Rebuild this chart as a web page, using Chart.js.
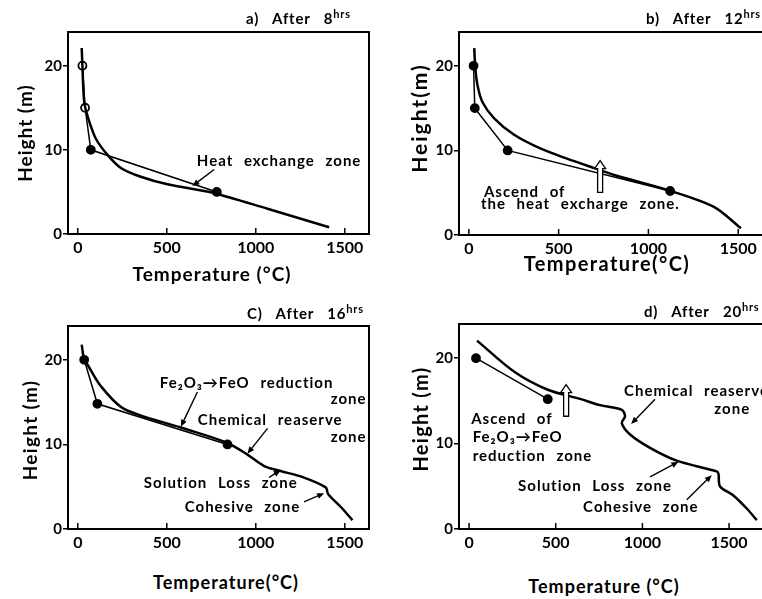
<!DOCTYPE html>
<html>
<head>
<meta charset="utf-8">
<script src="https://cdn.jsdelivr.net/npm/chart.js@4.4.1/dist/chart.umd.min.js"></script>
<style>
  html, body { margin: 0; padding: 0; width: 762px; height: 599px; overflow: hidden; background: #fff; }
  body { position: relative; font-family: Lato, "DejaVu Sans", sans-serif; font-weight: 700; color: #000; }
  canvas { position: absolute; }
  .lbl { position: absolute; white-space: nowrap; letter-spacing: 1px; line-height: 1; }
  .title { font-size: 15px; letter-spacing: 0.8px; word-spacing: 9px; transform: translate(0, -50%); }
  .title sup { font-size: 11px; vertical-align: 6px; letter-spacing: 0.8px; }
  .xt { transform: translate(-50%, -50%); }
  .yt { transform: translate(-50%, -50%) rotate(-90deg); }
</style>
</head>
<body>
  <canvas id="chartA" width="347" height="240" style="left:28px;top:22px"></canvas>
  <canvas id="chartB" width="362" height="241" style="left:419px;top:22px"></canvas>
  <canvas id="chartC" width="347" height="241" style="left:28px;top:316px"></canvas>
  <canvas id="chartD" width="362" height="243" style="left:419px;top:314px"></canvas>

  <div class="lbl title" style="left:246px;top:17px">a) After 8<sup>hrs</sup></div>
  <div class="lbl title" style="left:646px;top:17px">b) After 12<sup>hrs</sup></div>
  <div class="lbl title" style="left:247px;top:312px">C) After 16<sup>hrs</sup></div>
  <div class="lbl title" style="left:644px;top:310px">d) After 20<sup>hrs</sup></div>

  <div class="lbl xt" style="left:212px;top:273px;font-size:19px">Temperature (°C)</div>
  <div class="lbl xt" style="left:607px;top:263px;font-size:20px;letter-spacing:1.4px">Temperature(°C)</div>
  <div class="lbl xt" style="left:226px;top:582px;font-size:18px">Temperature(°C)</div>
  <div class="lbl xt" style="left:604px;top:586px;font-size:18px">Temperature (°C)</div>

  <div class="lbl yt" style="left:24px;top:133px;font-size:19px">Height (m)</div>
  <div class="lbl yt" style="left:418px;top:118px;font-size:21px;letter-spacing:2px">Height(m)</div>
  <div class="lbl yt" style="left:29px;top:430px;font-size:19px;letter-spacing:1.3px">Height (m)</div>
  <div class="lbl yt" style="left:420px;top:419px;font-size:20px;letter-spacing:1.3px">Height (m)</div>

<script>
  // tick labels shared by all four panels
  const xTicks = [0, 500, 1000, 1500];
  const yTicks = [0, 10, 20];

  // a) after 8 hrs
  const calcTempA = [22, 26, 36, 58, 101, 167, 242, 354, 504, 766, 1066, 1412];
  const calcHeightA = [22.1, 20, 15.7, 13.8, 11.35, 9.4, 7.85, 6.8, 5.9, 4.85, 3.0, 0.8];
  const measTempA = [26, 41, 73, 781];
  const measHeightA = [20, 15, 10, 5];

  // b) after 12 hrs
  const calcTempB = [30, 35, 48, 76, 141, 252, 401, 550, 700, 809, 1125, 1367, 1515];
  const calcHeightB = [22.1, 20, 17.7, 15.7, 13.8, 11.85, 10.2, 9.0, 7.9, 7.1, 5.2, 3.3, 0.8];
  const measTempB = [26, 33, 216, 1121];
  const measHeightB = [20, 15, 10, 5.2];

  // c) after 16 hrs
  const calcTempC = [22, 36, 54, 129, 260, 579, 837, 953, 1047, 1140, 1271, 1393, 1406, 1478, 1543];
  const calcHeightC = [21.8, 20, 19.45, 16.9, 14.2, 12.0, 10.2, 8.8, 7.44, 6.86, 6.08, 4.92, 4.15, 2.6, 1.05];
  const measTempC = [36, 110, 841];
  const measHeightC = [20, 14.8, 10];

  // d) after 20 hrs
  const calcTempD = [46, 261, 454, 646, 756, 881, 900, 881, 929, 1044, 1198, 1429, 1439, 1448, 1525, 1602, 1660];
  const calcHeightD = [22.05, 18.4, 16.3, 15.2, 14.5, 13.95, 13.2, 12.4, 11.06, 9.5, 8.0, 6.74, 6.44, 4.97, 3.93, 2.4, 1.04];
  const measTempD = [40, 454];
  const measHeightD = [20, 15.2];

  // annotations: [temp, height, text], pointers: [t0, h0, t1, h1], hollow arrows: [temp, hFrom, hTo]
  const notesA = {
    labels: [[669, 8.6, "Heat exchange zone"]],
    pointers: [[766, 7.66, 644, 5.7]],
    hollow: [],
  };
  const notesB = {
    labels: [[84, 5.05, "Ascend of"], [67, 3.7, "the heat excharge zone."]],
    pointers: [],
    hollow: [[731, 5.05, 8.8]],
  };
  const notesC = {
    labels: [
      [461, 17.2, "Fe₂O₃→FeO reduction"],
      [1421, 15.3, "zone"],
      [674, 12.9, "Chemical reaserve"],
      [1421, 10.9, "zone"],
      [371, 5.37, "Solution Loss zone"],
      [601, 2.6, "Cohesive zone"],
    ],
    pointers: [
      [672, 16.2, 579, 12.1],
      [1066, 11.9, 953, 8.9],
      [1075, 6.1, 1140, 6.95],
      [1271, 3.2, 1384, 4.24],
    ],
    hollow: [],
  };
  const notesD = {
    labels: [
      [894, 16.15, "Chemical reaserve"],
      [1415, 14.07, "zone"],
      [12, 12.9, "Ascend of"],
      [21, 10.75, "Fe₂O₃→FeO"],
      [21, 8.55, "reduction zone"],
      [283, 4.97, "Solution Loss zone"],
      [658, 2.5, "Cohesive zone"],
    ],
    pointers: [
      [1073, 15.2, 935, 12.3],
      [1044, 6.1, 1208, 7.86],
      [1256, 3.43, 1400, 6.3],
    ],
    hollow: [[560, 13.2, 16.9]],
  };

  const FONT = "Lato, 'DejaVu Sans', sans-serif";

  const framePlugin = {
    id: "frame",
    afterDraw(chart) {
      const { ctx, chartArea: a } = chart;
      const xs = chart.scales.x;
      ctx.save();
      ctx.strokeStyle = "#000";
      ctx.lineWidth = 2;
      ctx.strokeRect(a.left, a.top, a.right - a.left, a.bottom - a.top);
      ctx.lineWidth = 1.5;
      xTicks.forEach((v) => {
        const px = xs.getPixelForValue(v);
        ctx.beginPath();
        ctx.moveTo(px, a.bottom);
        ctx.lineTo(px, a.bottom - 6);
        ctx.stroke();
      });
      ctx.restore();
    },
  };

  function hollowArrow(ctx, px, y0, y1) {
    const sw = 2.5, hw = 5.5, hl = 8;
    ctx.beginPath();
    ctx.moveTo(px - sw, y0);
    ctx.lineTo(px - sw, y1 + hl);
    ctx.lineTo(px - hw, y1 + hl);
    ctx.lineTo(px, y1);
    ctx.lineTo(px + hw, y1 + hl);
    ctx.lineTo(px + sw, y1 + hl);
    ctx.lineTo(px + sw, y0);
    ctx.closePath();
    ctx.fillStyle = "#fff";
    ctx.fill();
    ctx.lineWidth = 1.3;
    ctx.stroke();
  }

  function pointer(ctx, x0, y0, x1, y1) {
    const ang = Math.atan2(y1 - y0, x1 - x0);
    const hl = 7, hw = 3;
    ctx.lineWidth = 1.4;
    ctx.beginPath();
    ctx.moveTo(x0, y0);
    ctx.lineTo(x1 - Math.cos(ang) * hl * 0.8, y1 - Math.sin(ang) * hl * 0.8);
    ctx.stroke();
    ctx.beginPath();
    ctx.moveTo(x1, y1);
    ctx.lineTo(x1 - Math.cos(ang) * hl - Math.sin(ang) * hw, y1 - Math.sin(ang) * hl + Math.cos(ang) * hw);
    ctx.lineTo(x1 - Math.cos(ang) * hl + Math.sin(ang) * hw, y1 - Math.sin(ang) * hl - Math.cos(ang) * hw);
    ctx.closePath();
    ctx.fillStyle = "#000";
    ctx.fill();
  }

  const notesPlugin = {
    id: "notes",
    afterDatasetsDraw(chart, args, opts) {
      const { ctx } = chart;
      const xs = chart.scales.x;
      const ys = chart.scales.y;
      ctx.save();
      ctx.fillStyle = "#000";
      ctx.strokeStyle = "#000";
      ctx.font = "bold 15px " + FONT;
      ctx.letterSpacing = "1px";
      ctx.wordSpacing = "6px";
      ctx.textBaseline = "middle";
      ctx.textAlign = "left";
      (opts.labels || []).forEach(([t, h, text]) => {
        ctx.fillText(text, xs.getPixelForValue(t), ys.getPixelForValue(h));
      });
      (opts.pointers || []).forEach(([t0, h0, t1, h1]) => {
        pointer(ctx, xs.getPixelForValue(t0), ys.getPixelForValue(h0), xs.getPixelForValue(t1), ys.getPixelForValue(h1));
      });
      (opts.hollow || []).forEach(([t, h0, h1]) => {
        hollowArrow(ctx, xs.getPixelForValue(t), ys.getPixelForValue(h0), ys.getPixelForValue(h1));
      });
      ctx.restore();
    },
  };

  const toPoints = (xs, ys) => xs.map((x, i) => ({ x, y: ys[i] }));

  function buildPanel(id, xMin, xMax, calcT, calcH, measT, measH, measFill, notes) {
    return new Chart(document.getElementById(id), {
      type: "scatter",
      data: {
        datasets: [
          {
            data: toPoints(calcT, calcH),
            showLine: true,
            borderColor: "#000",
            borderWidth: 2.5,
            pointRadius: 0,
            tension: 0.3,
          },
          {
            data: toPoints(measT, measH),
            showLine: true,
            borderColor: "#000",
            borderWidth: 1.5,
            pointRadius: 4,
            pointBackgroundColor: measFill,
            pointBorderColor: "#000",
            pointBorderWidth: 1.8,
          },
        ],
      },
      options: {
        responsive: false,
        animation: false,
        layout: { padding: { top: 6, right: 6, left: 0, bottom: 0 } },
        plugins: {
          legend: { display: false },
          tooltip: { enabled: false },
          notes,
        },
        scales: {
          x: {
            type: "linear",
            min: xMin,
            max: xMax,
            afterBuildTicks: (s) => { s.ticks = xTicks.map((v) => ({ value: v })); },
            afterFit: (s) => { s.height = 28; },
            grid: { display: false, drawTicks: false },
            border: { display: false },
            ticks: { padding: 4, color: "#000", font: { family: FONT, size: 16, weight: "bold" }, callback: (v) => String(v) },
          },
          y: {
            type: "linear",
            min: 0,
            max: 24,
            afterBuildTicks: (s) => { s.ticks = yTicks.map((v) => ({ value: v })); },
            afterFit: (s) => { s.width = 40; },
            grid: { drawOnChartArea: false, drawTicks: true, tickLength: 5, color: "#000", lineWidth: 1.5 },
            border: { display: false },
            ticks: { padding: 1, color: "#000", font: { family: FONT, size: 15, weight: "bold" }, callback: (v) => String(v) },
          },
        },
      },
      plugins: [framePlugin, notesPlugin],
    });
  }

  buildPanel("chartA", -55, 1636, calcTempA, calcHeightA, measTempA, measHeightA, ["#fff", "#fff", "#000", "#000"], notesA);
  buildPanel("chartB", -55, 1705, calcTempB, calcHeightB, measTempB, measHeightB, "#000", notesB);
  buildPanel("chartC", -55, 1636, calcTempC, calcHeightC, measTempC, measHeightC, "#000", notesC);
  buildPanel("chartD", -58, 1765, calcTempD, calcHeightD, measTempD, measHeightD, "#000", notesD);
</script>
</body>
</html>
